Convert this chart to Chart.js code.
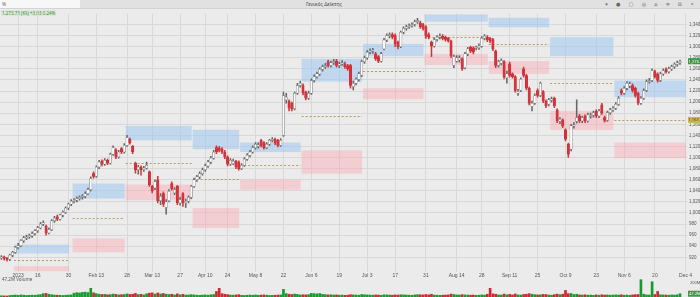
<!DOCTYPE html>
<html>
<head>
<meta charset="utf-8">
<script src="https://cdn.jsdelivr.net/npm/chart.js@4.4.0/dist/chart.umd.min.js"></script>
<style>
body{margin:0;width:700px;height:297px;overflow:hidden;background:#ebebeb;font-family:"Noto Sans","DejaVu Sans",sans-serif;position:relative}
#bar{position:absolute;left:0;top:0;width:700px;height:8px;background:#e1e1e1;border-bottom:1px solid #d3d3d3}
#search{position:absolute;left:0;top:0;width:80px;height:8px;background:#f7f7f7;font-size:5px;line-height:8px;color:#666;padding-left:2px;box-sizing:border-box}
#title{position:absolute;left:306px;top:0;font-size:5px;line-height:8px;color:#444}
#icons{position:absolute;right:3px;top:0;font-size:5px;line-height:8px;color:#666;letter-spacing:3.5px}
#quote{position:absolute;left:1px;top:10px;font-size:4.5px;line-height:6px;color:#3b8b3b;background:#dde8d9;padding:0 1px}
#vollbl{position:absolute;left:2px;top:277px;font-size:4.5px;line-height:5px;color:#555}
canvas{position:absolute;left:0}
#price{top:9px}
#volume{top:279px}
</style>
</head>
<body>
<div id="bar">
  <div id="search">%</div>
  <div id="title">Γενικός Δείκτης</div>
  <div id="icons">▾ ● ▢ ◎ ⌂ ≡ ⧉ ×</div>
</div>
<div id="quote">1,273.73 (Κλ) +3.03 0.24%</div>
<canvas id="price" width="700" height="270"></canvas>
<canvas id="volume" width="700" height="18"></canvas>
<div id="vollbl">47.2M Volume</div>
<script>
/* DATOS */
const tickIndex = [6, 13, 24, 34, 45, 54, 64, 73, 81, 91, 101, 111, 121, 131, 141, 152, 163, 172, 182, 192, 202, 213, 223, 234, 245];
const tickText = ['2023', '16', '30', 'Feb 13', '28', 'Mar 13', '27', 'Apr 10', '24', 'May 8', '22', 'Jun 6', '19', 'Jul 3', '17', '31', 'Aug 14', '28', 'Sep 11', '25', 'Oct 9', '23', 'Nov 6', '20', 'Dec 4'];
const yTicks = [920, 940, 960, 980, 1000, 1020, 1040, 1060, 1080, 1100, 1120, 1140, 1160, 1180, 1200, 1220, 1240, 1260, 1280, 1300, 1320, 1340];

const opens = [
  919, 921, 918, 916, 924, 929, 938, 941, 950, 955,
  957, 959, 963, 968, 973, 980, 976, 964, 970, 986,
  993, 989, 996, 1001, 1009, 1016, 1021, 1023, 1026, 1028,
  1030, 1035, 1042, 1071, 1066, 1083, 1093, 1088, 1095, 1090,
  1106, 1114, 1101, 1116, 1110, 1122, 1133, 1120, 1090, 1078,
  1083, 1078, 1081, 1074, 1048, 1045, 1060, 1022, 1035, 1010,
  1022, 1053, 1036, 1048, 1018, 1035, 1018, 1021, 1028, 1048,
  1060, 1065, 1071, 1078, 1085, 1092, 1099, 1118, 1117, 1115,
  1110, 1101, 1088, 1089, 1093, 1092, 1080, 1086, 1097, 1104,
  1110, 1118, 1120, 1131, 1127, 1118, 1124, 1131, 1133, 1131,
  1122, 1140, 1204, 1202, 1198, 1188, 1216, 1230, 1230, 1218,
  1207, 1216, 1239, 1246, 1251, 1259, 1264, 1273, 1266, 1271,
  1274, 1266, 1269, 1269, 1266, 1266, 1228, 1234, 1241, 1248,
  1273, 1280, 1290, 1292, 1287, 1282, 1274, 1296, 1312, 1320,
  1322, 1320, 1308, 1300, 1326, 1333, 1336, 1338, 1340, 1345,
  1343, 1340, 1336, 1322, 1308, 1301, 1313, 1317, 1319, 1317,
  1315, 1310, 1266, 1274, 1276, 1278, 1262, 1287, 1299, 1298,
  1297, 1298, 1301, 1315, 1317, 1315, 1313, 1292, 1266, 1270,
  1273, 1244, 1269, 1251, 1246, 1216, 1221, 1260, 1248, 1225,
  1192, 1198, 1221, 1212, 1219, 1202, 1196, 1203, 1207, 1186,
  1165, 1168, 1150, 1124, 1115, 1157, 1165, 1175, 1166, 1175,
  1166, 1174, 1176, 1184, 1175, 1195, 1172, 1167, 1181, 1186,
  1189, 1196, 1221, 1216, 1225, 1229, 1230, 1225, 1216, 1198,
  1207, 1221, 1237, 1239, 1255, 1251, 1239, 1251, 1260, 1255,
  1260, 1264, 1268, 1271
];
const highs = [
  923, 922, 920, 926, 931, 940, 945, 952, 958, 960,
  962, 966, 970, 976, 983, 986, 978, 973, 988, 994,
  996, 998, 1004, 1011, 1018, 1024, 1026, 1029, 1031, 1033,
  1038, 1045, 1065, 1074, 1085, 1095, 1096, 1098, 1097, 1108,
  1121, 1116, 1113, 1118, 1125, 1140, 1135, 1122, 1092, 1086,
  1085, 1084, 1092, 1076, 1050, 1060, 1066, 1035, 1038, 1024,
  1042, 1056, 1046, 1050, 1028, 1037, 1025, 1031, 1050, 1063,
  1068, 1074, 1081, 1088, 1095, 1102, 1113, 1121, 1120, 1118,
  1113, 1103, 1098, 1097, 1095, 1094, 1089, 1100, 1107, 1113,
  1121, 1127, 1127, 1133, 1129, 1127, 1133, 1136, 1135, 1133,
  1134, 1218, 1216, 1204, 1200, 1218, 1234, 1238, 1233, 1220,
  1220, 1242, 1249, 1254, 1262, 1267, 1270, 1276, 1274, 1277,
  1277, 1272, 1275, 1272, 1268, 1268, 1238, 1244, 1254, 1276,
  1283, 1293, 1296, 1297, 1290, 1284, 1290, 1315, 1323, 1325,
  1325, 1323, 1310, 1328, 1336, 1339, 1341, 1343, 1348, 1351,
  1346, 1342, 1338, 1325, 1310, 1316, 1320, 1323, 1322, 1319,
  1317, 1312, 1285, 1284, 1284, 1280, 1290, 1299, 1301, 1300,
  1301, 1305, 1318, 1322, 1320, 1317, 1315, 1294, 1276, 1278,
  1275, 1256, 1272, 1253, 1248, 1223, 1244, 1263, 1250, 1227,
  1202, 1215, 1224, 1236, 1221, 1204, 1207, 1209, 1209, 1188,
  1172, 1170, 1152, 1126, 1160, 1163, 1204, 1178, 1175, 1177,
  1180, 1180, 1184, 1186, 1187, 1198, 1175, 1184, 1189, 1192,
  1199, 1210, 1224, 1228, 1237, 1236, 1233, 1227, 1218, 1210,
  1224, 1240, 1243, 1260, 1258, 1253, 1254, 1260, 1262, 1263,
  1267, 1271, 1274, 1276
];
const lows = [
  916, 915, 913, 914, 921, 927, 935, 939, 947, 952,
  954, 956, 960, 965, 971, 977, 960, 962, 968, 983,
  986, 987, 993, 999, 1006, 1013, 1018, 1020, 1023, 1025,
  1027, 1033, 1040, 1063, 1064, 1080, 1085, 1086, 1087, 1088,
  1104, 1098, 1099, 1107, 1108, 1120, 1124, 1107, 1072, 1070,
  1068, 1075, 1079, 1048, 1036, 1042, 1018, 1015, 1012, 998,
  1020, 1041, 1033, 1015, 1014, 1012, 1010, 1018, 1026, 1046,
  1057, 1062, 1068, 1075, 1082, 1089, 1097, 1107, 1110, 1107,
  1098, 1085, 1086, 1087, 1080, 1077, 1078, 1084, 1095, 1101,
  1108, 1115, 1117, 1119, 1115, 1116, 1122, 1128, 1123, 1119,
  1120, 1138, 1198, 1184, 1184, 1186, 1214, 1227, 1213, 1204,
  1205, 1214, 1236, 1243, 1248, 1256, 1261, 1263, 1263, 1268,
  1263, 1262, 1266, 1261, 1257, 1225, 1222, 1231, 1238, 1246,
  1270, 1277, 1287, 1288, 1275, 1271, 1272, 1294, 1309, 1316,
  1314, 1300, 1296, 1298, 1323, 1330, 1333, 1335, 1337, 1342,
  1333, 1330, 1315, 1314, 1282, 1299, 1310, 1314, 1312, 1310,
  1308, 1280, 1262, 1272, 1272, 1257, 1260, 1284, 1289, 1287,
  1294, 1295, 1299, 1312, 1309, 1307, 1293, 1262, 1263, 1267,
  1242, 1234, 1245, 1243, 1218, 1212, 1219, 1245, 1222, 1195,
  1184, 1196, 1209, 1210, 1199, 1190, 1193, 1200, 1190, 1163,
  1161, 1154, 1130, 1100, 1112, 1153, 1162, 1163, 1163, 1163,
  1164, 1171, 1173, 1172, 1172, 1178, 1164, 1165, 1178, 1183,
  1187, 1194, 1213, 1214, 1222, 1226, 1218, 1209, 1195, 1196,
  1205, 1219, 1234, 1237, 1243, 1236, 1237, 1248, 1252, 1252,
  1257, 1261, 1265, 1268
];
const closes = [
  921, 918, 916, 924, 929, 938, 941, 950, 955, 957,
  959, 963, 968, 973, 980, 982, 964, 970, 986, 991,
  989, 996, 1001, 1009, 1016, 1021, 1023, 1026, 1028, 1030,
  1035, 1042, 1062, 1066, 1083, 1092, 1088, 1095, 1090, 1106,
  1118, 1101, 1110, 1110, 1122, 1136, 1127, 1110, 1078, 1083,
  1078, 1081, 1086, 1051, 1040, 1056, 1022, 1030, 1016, 1020,
  1039, 1044, 1042, 1018, 1024, 1018, 1021, 1028, 1048, 1060,
  1065, 1071, 1078, 1085, 1092, 1099, 1110, 1110, 1113, 1110,
  1101, 1088, 1095, 1093, 1083, 1080, 1086, 1097, 1104, 1110,
  1118, 1124, 1123, 1122, 1118, 1124, 1131, 1133, 1126, 1122,
  1131, 1212, 1209, 1189, 1188, 1216, 1230, 1234, 1216, 1207,
  1216, 1239, 1246, 1251, 1259, 1264, 1266, 1266, 1271, 1273,
  1266, 1269, 1271, 1264, 1260, 1230, 1234, 1241, 1251, 1273,
  1280, 1290, 1292, 1293, 1278, 1274, 1287, 1312, 1320, 1321,
  1317, 1305, 1300, 1326, 1333, 1336, 1338, 1340, 1345, 1347,
  1336, 1333, 1319, 1318, 1301, 1313, 1317, 1319, 1315, 1313,
  1311, 1284, 1282, 1280, 1280, 1260, 1287, 1296, 1292, 1290,
  1298, 1301, 1315, 1319, 1312, 1310, 1296, 1266, 1273, 1275,
  1246, 1251, 1248, 1246, 1221, 1219, 1241, 1248, 1225, 1198,
  1198, 1212, 1212, 1234, 1202, 1193, 1204, 1206, 1193, 1166,
  1169, 1157, 1133, 1106, 1157, 1159, 1172, 1166, 1172, 1166,
  1177, 1176, 1181, 1175, 1184, 1181, 1167, 1181, 1186, 1189,
  1196, 1207, 1216, 1225, 1234, 1233, 1221, 1212, 1198, 1207,
  1221, 1237, 1239, 1257, 1246, 1239, 1251, 1257, 1255, 1260,
  1264, 1268, 1271, 1273.73
];
const volumes = [
  18, 16, 15, 22, 25, 28, 24, 30, 26, 22,
  24, 27, 25, 30, 35, 48, 52, 40, 33, 28,
  26, 24, 22, 25, 28, 30, 55, 62, 58, 66,
  70, 64, 125, 60, 48, 40, 36, 38, 32, 35,
  42, 38, 30, 34, 36, 45, 38, 40, 52, 35,
  38, 30, 46, 55, 60, 42, 58, 44, 50, 40,
  36, 40, 30, 45, 32, 38, 28, 30, 34, 30,
  26, 24, 28, 30, 26, 32, 35, 80, 125, 48,
  40, 35, 28, 26, 30, 34, 24, 22, 26, 28,
  25, 30, 24, 28, 30, 26, 22, 24, 26, 28,
  30, 110, 48, 40, 36, 42, 38, 30, 32, 30,
  34, 52, 48, 45, 50, 38, 34, 30, 32, 28,
  30, 26, 28, 24, 26, 34, 30, 28, 26, 36,
  32, 30, 28, 26, 30, 28, 24, 32, 30, 28,
  26, 30, 28, 32, 30, 28, 26, 24, 30, 34,
  32, 30, 36, 30, 40, 28, 26, 24, 26, 28,
  30, 42, 36, 30, 28, 34, 30, 28, 26, 28,
  24, 26, 30, 28, 40, 125, 45, 40, 30, 28,
  42, 32, 38, 30, 44, 30, 28, 36, 40, 48,
  40, 34, 30, 32, 38, 36, 28, 26, 34, 42,
  34, 40, 95, 48, 50, 36, 40, 30, 28, 32,
  26, 28, 24, 30, 26, 32, 28, 30, 26, 28,
  30, 28, 32, 26, 28, 24, 30, 34, 36, 250,
  40, 30, 28, 220, 36, 80, 32, 30, 28, 26,
  30, 28, 32, 47.2
];

// CAJAS MENSUALES (indices de inicio/fin y niveles)
const boxStart = [5, 26, 45, 69, 86, 108, 130, 152, 175, 197, 220];
const boxEnd = [24, 44, 68, 85, 107, 129, 151, 174, 196, 219, 245];
const blueTop = [943, 1053, 1157, 1150, 1127, 1278, 1305, 1358, 1352, 1317, 1239];
const blueBottom = [927, 1026, 1131, 1115, 1110, 1237, 1283, 1345, 1335, 1283, 1209];
const midLine = [915, 991, 1090, 1062, 1087, 1175, 1257, 1317, 1305, 1234, 1167.87];
const pinkTop = [904, 954, 1051, 1009, 1060, 1113, 1225, 1287, 1274, 1184, 1127];
const pinkBottom = [895, 929, 1023, 973, 1042, 1071, 1205, 1267, 1251, 1150, 1099];

// ETIQUETAS DE PRECIO A LA DERECHA
const tagValues = [1273.73, 1167.87];
const tagTexts = ['1,273.73', '1,167.87'];

const nCats = 246;
const categories = [];
for (let i = 0; i < nCats; i++) {
  const k = tickIndex.indexOf(i);
  categories.push(k >= 0 ? tickText[k] : '');
}

const up = closes.map((c, i) => c >= opens[i]);
const wicks = lows.map((l, i) => [l, highs[i]]);
const bodies = opens.map((o, i) => [o, closes[i]]);

const boxPlugin = {
  id: 'boxes',
  beforeDatasetsDraw(chart) {
    const { ctx, chartArea, scales: { x, y } } = chart;
    const half = (x.getPixelForValue(1) - x.getPixelForValue(0)) / 2;
    ctx.save();
    ctx.beginPath();
    ctx.rect(chartArea.left, chartArea.top, chartArea.right - chartArea.left, chartArea.bottom - chartArea.top);
    ctx.clip();
    for (let k = 0; k < boxStart.length; k++) {
      const x0 = x.getPixelForValue(boxStart[k]) - half;
      const x1 = x.getPixelForValue(boxEnd[k]) + half - 1;
      ctx.fillStyle = 'rgba(150,196,242,0.5)';
      const b0 = y.getPixelForValue(blueTop[k]);
      ctx.fillRect(x0, b0, x1 - x0, y.getPixelForValue(blueBottom[k]) - b0);
      ctx.fillStyle = 'rgba(250,168,178,0.45)';
      const p0 = y.getPixelForValue(pinkTop[k]);
      ctx.fillRect(x0, p0, x1 - x0, y.getPixelForValue(pinkBottom[k]) - p0);
      ctx.strokeStyle = '#b49a5e';
      ctx.lineWidth = 1;
      ctx.setLineDash([2, 2]);
      const m = Math.round(y.getPixelForValue(midLine[k])) + 0.5;
      ctx.beginPath();
      ctx.moveTo(x0, m);
      ctx.lineTo(x1, m);
      ctx.stroke();
    }
    ctx.restore();
  }
};

const tagPlugin = {
  id: 'tags',
  afterDraw(chart) {
    const { ctx, chartArea, scales: { y } } = chart;
    ctx.save();
    ctx.font = '4px "Noto Sans", sans-serif';
    ctx.textBaseline = 'middle';
    tagValues.forEach((v, k) => {
      const py = y.getPixelForValue(v);
      ctx.fillStyle = k === 0 ? '#3a9a4a' : '#cdb94a';
      ctx.fillRect(chartArea.right + 1, py - 3, 12, 6);
      ctx.fillStyle = k === 0 ? '#ffffff' : '#333333';
      ctx.fillText(tagTexts[k], chartArea.right + 1.5, py + 0.3);
    });
    ctx.restore();
  }
};

new Chart(document.getElementById('price'), {
  type: 'bar',
  data: {
    labels: categories,
    datasets: [
      {
        data: wicks,
        backgroundColor: up.map(u => u ? '#666666' : '#d0373d'),
        barThickness: 0.9,
        grouped: false,
        order: 2
      },
      {
        data: bodies,
        backgroundColor: up.map(u => u ? '#fbfbfb' : '#d8333a'),
        borderColor: up.map(u => u ? '#707070' : '#c92a31'),
        borderWidth: 0.5,
        borderSkipped: false,
        barThickness: 2.4,
        minBarLength: 1,
        grouped: false,
        order: 1
      }
    ]
  },
  options: {
    responsive: false,
    maintainAspectRatio: false,
    animation: false,
    devicePixelRatio: 1,
    layout: { padding: 0 },
    plugins: { legend: { display: false }, tooltip: { enabled: false } },
    scales: {
      x: {
        offset: true,
        border: { display: false },
        grid: {
          offset: false,
          drawTicks: false,
          color: c => (c.tick && c.tick.label) ? '#d8d8d8' : 'rgba(0,0,0,0)'
        },
        ticks: {
          autoSkip: false,
          maxRotation: 0,
          padding: 1,
          font: { size: 5 },
          color: '#555',
          callback: (v, i) => categories[i]
        },
        afterFit: s => { s.height = 7; }
      },
      y: {
        position: 'right',
        min: 893.5,
        max: 1359.5,
        border: { display: false },
        afterBuildTicks: s => { s.ticks = yTicks.map(v => ({ value: v })); },
        grid: { color: '#d8d8d8', drawTicks: false },
        ticks: {
          padding: 2,
          font: { size: 4.5 },
          color: '#555',
          callback: v => v.toLocaleString('en-US')
        },
        afterFit: s => { s.width = 13; }
      }
    }
  },
  plugins: [boxPlugin, tagPlugin]
});

// GRAFICO DE VOLUMEN
const volTagPlugin = {
  id: 'voltag',
  afterDraw(chart) {
    const { ctx, chartArea, scales: { y } } = chart;
    const py = Math.min(y.getPixelForValue(volumes[volumes.length - 1]), chartArea.bottom - 3);
    ctx.save();
    ctx.font = '4px "Noto Sans", sans-serif';
    ctx.textBaseline = 'middle';
    ctx.fillStyle = '#555';
    ctx.fillText('200M', chartArea.right + 3, y.getPixelForValue(200));
    ctx.fillStyle = '#3a9a4a';
    ctx.fillRect(chartArea.right + 1, py - 3, 12, 6);
    ctx.fillStyle = '#fff';
    ctx.fillText('47.2M', chartArea.right + 2, py + 0.3);
    ctx.restore();
  }
};

const volChart = new Chart(document.getElementById('volume'), {
  type: 'bar',
  data: {
    labels: categories,
    datasets: [{
      data: volumes,
      backgroundColor: up.map(u => u ? '#179a2c' : '#d0262e'),
      barThickness: 2
    }]
  },
  options: {
    responsive: false,
    maintainAspectRatio: false,
    animation: false,
    devicePixelRatio: 1,
    layout: { padding: 0, autoPadding: false },
    plugins: { legend: { display: false }, tooltip: { enabled: false } },
    scales: {
      x: { display: false, offset: true },
      y: {
        position: 'right',
        min: 0,
        max: 260,
        border: { display: false },
        grid: { display: false, drawTicks: false },
        ticks: { display: false },
        afterFit: s => { s.width = 13; }
      }
    }
  },
  plugins: [volTagPlugin]
});
</script>
</body>
</html>
